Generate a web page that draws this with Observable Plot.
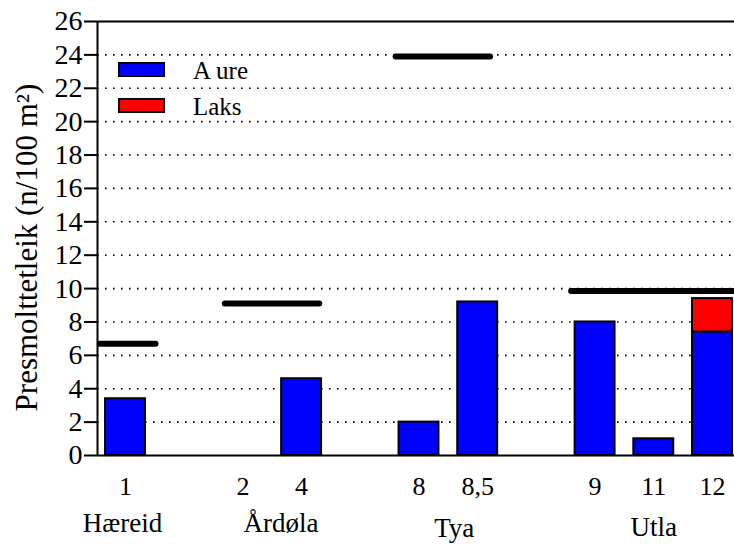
<!DOCTYPE html>
<html>
<head>
<meta charset="utf-8">
<script src="https://cdn.jsdelivr.net/npm/d3@7"></script>
<script src="https://cdn.jsdelivr.net/npm/@observablehq/plot@0.6"></script>
<style>
  html, body { margin: 0; padding: 0; background: #fff; overflow: hidden; }
  #wrap { position: relative; width: 734px; height: 544px; font-family: "Liberation Serif", "Times New Roman", Times, "DejaVu Serif", serif; }
  #wrap svg text { font-family: "Liberation Serif", "Times New Roman", Times, "DejaVu Serif", serif; }
  .sw { position: absolute; width: 47px; height: 15px; border: 2px solid #000; box-sizing: border-box; }
  .lt { position: absolute; font-size: 25px; line-height: 25px; color: #000; }
</style>
</head>
<body>
<div id="wrap"></div>
<script>
// ---- data ----
const sites  = ["1", "2", "4", "8", "8,5", "9", "11", "12"];
const rivers = ["Hæreid", "Årdøla", "Årdøla", "Tya", "Tya", "Utla", "Utla", "Utla"];
const aure   = [3.4, 0, 4.6, 2.0, 9.2, 8.0, 1.0, 7.4];
const laks   = [0, 0, 0, 0, 0, 0, 0, 2.0];
// river reference levels (thick black lines), extents in slot units
const refRivers = ["Hæreid", "Årdøla", "Tya", "Utla"];
const refValues = [6.7, 9.1, 23.9, 9.85];
const refStart  = [-0.43, 1.70, 4.61, 7.60];
const refEnd    = [0.52, 3.31, 6.22, 10.375];
const riverLabelPos = [-0.05, 2.65, 5.6, 9.0];
const riverLabelDy  = [68, 68, 73, 72];
const yTicks = d3.range(0, 27, 2);
const gridTicks = d3.range(2, 25, 2);
const seriesNames = ["Aure", "Laks"];
const seriesColors = ["#0000ff", "#ff0000"];

// slot positions: a gap slot between rivers
const slots = [];
{
  let s = 0;
  rivers.forEach((r, i) => {
    if (i > 0) s += (r !== rivers[i - 1]) ? 2 : 1;
    slots.push(s);
  });
}
const xMin = -0.477, xMax = 10.375;
const half = 0.34;

const bars = [];
sites.forEach((site, i) => {
  if (aure[i] > 0) bars.push({x1: slots[i] - half, x2: slots[i] + half, y1: 0, y2: aure[i], s: "Aure"});
  if (laks[i] > 0) bars.push({x1: slots[i] - half, x2: slots[i] + half, y1: aure[i], y2: aure[i] + laks[i], s: "Laks"});
});
const refs = refRivers.map((r, i) => ({r, v: refValues[i], a: refStart[i], b: refEnd[i]}));
const ticksX = sites.map((s, i) => ({x: slots[i], label: s}));

const font = "Liberation Serif, Times New Roman, serif";
const riverMarks = refRivers.map((r, i) =>
  Plot.text([r], {x: () => riverLabelPos[i], y: () => 0, text: d => d, dy: riverLabelDy[i], lineAnchor: "middle", fontSize: 27, fill: "#000"})
);

const chart = Plot.plot({
  width: 734,
  height: 544,
  marginLeft: 97,
  marginRight: 0,
  marginTop: 21,
  marginBottom: 89,
  style: {fontFamily: font, fontSize: "26px", color: "#000", background: "#fff", overflow: "visible"},
  x: {domain: [xMin, xMax], axis: null},
  y: {domain: [0, 26], axis: null},
  color: {domain: seriesNames, range: seriesColors},
  marks: [
    Plot.ruleY(gridTicks, {stroke: "#000", strokeWidth: 1.6, strokeDasharray: "1.6,6.4"}),
    Plot.rect(bars, {x1: "x1", x2: "x2", y1: "y1", y2: "y2", fill: "s", stroke: "#000", strokeWidth: 2}),
    Plot.ruleY(refs, {y: "v", x1: "a", x2: "b", stroke: "#000", strokeWidth: 6, strokeLinecap: "round"}),
    Plot.ruleY([0, 26], {stroke: "#000", strokeWidth: 2}),
    Plot.ruleX([xMin], {y1: 0, y2: 26, stroke: "#000", strokeWidth: 2}),
    Plot.axisY({ticks: yTicks, tickSize: 13, tickPadding: 2, tickFormat: d => String(d), fontSize: 28, strokeWidth: 2, label: null}),
    Plot.text(ticksX, {x: "x", y: 0, text: "label", dy: 31, lineAnchor: "middle", fontSize: 26, fill: "#000"}),
    ...riverMarks,
    Plot.text(["Presmolttetleik (n/100 m²)"], {frameAnchor: "left", text: d => d, rotate: -90, dx: -70, dy: 9, textAnchor: "middle", lineAnchor: "middle", fontSize: 31, fill: "#000"})
  ]
});
const wrap = document.getElementById("wrap");
wrap.appendChild(chart);

// legend
const legendTops = [62, 98];
const textTops = [58, 94];
seriesNames.forEach((n, i) => {
  const sw = document.createElement("div");
  sw.className = "sw";
  sw.style.left = "118px";
  sw.style.top = legendTops[i] + "px";
  sw.style.background = seriesColors[i];
  wrap.appendChild(sw);
  const t = document.createElement("div");
  t.className = "lt";
  t.style.left = "193px";
  t.style.top = textTops[i] + "px";
  if (n === "Aure") {
    const a = document.createElement("span");
    a.style.marginRight = "5px";
    a.textContent = "A";
    t.appendChild(a);
    t.appendChild(document.createTextNode("ure"));
  } else {
    t.textContent = n;
  }
  wrap.appendChild(t);
});
</script>
</body>
</html>
